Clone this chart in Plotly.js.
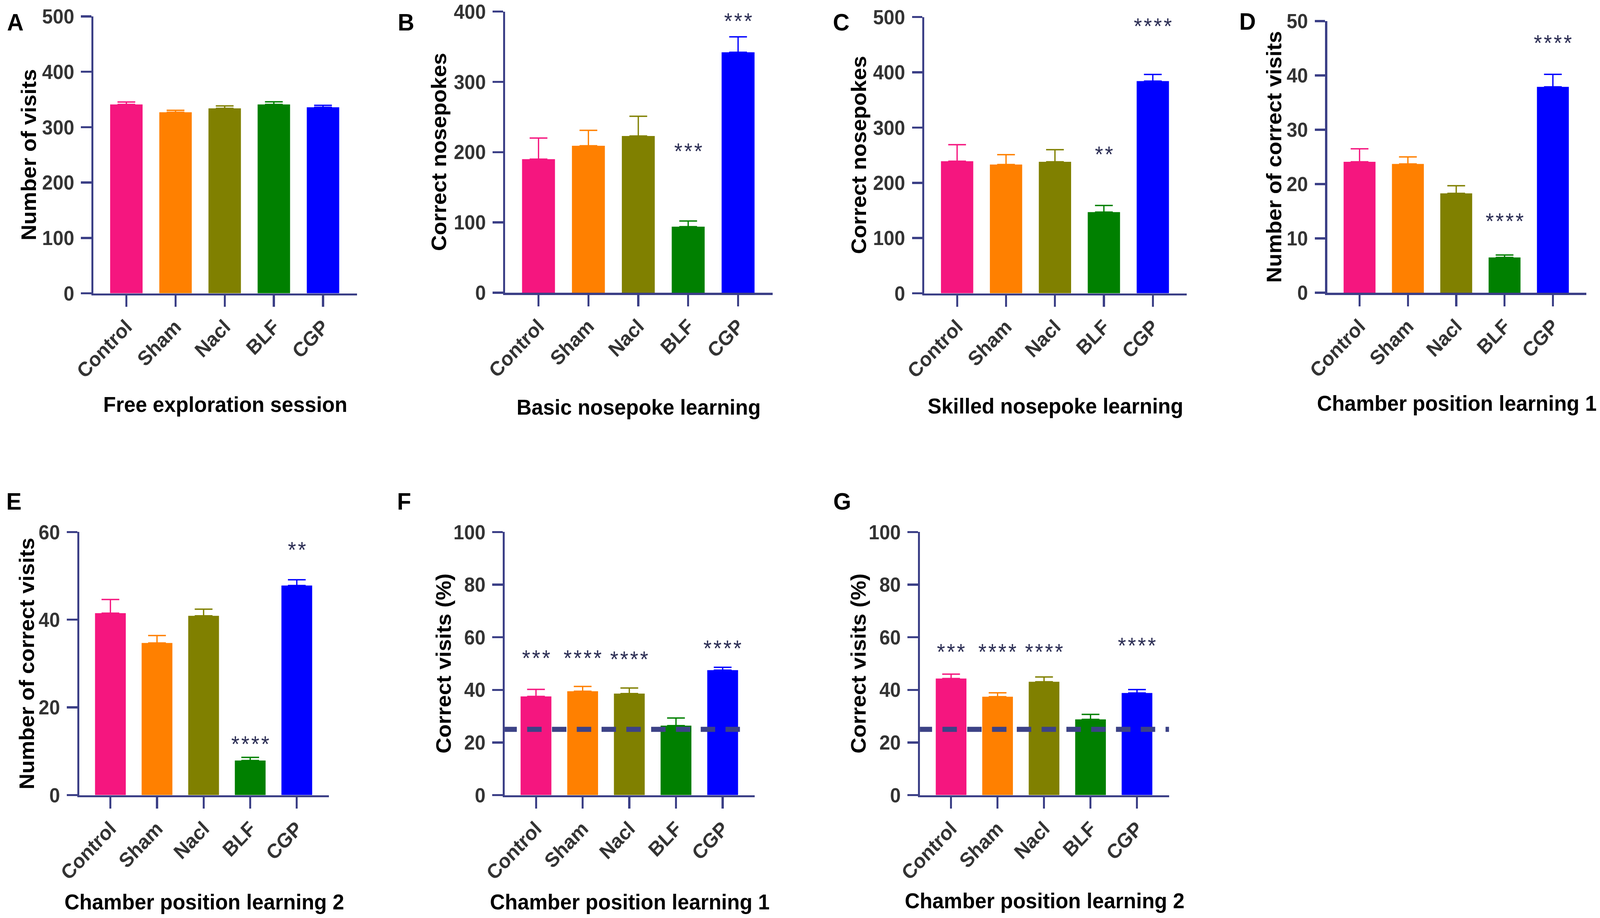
<!DOCTYPE html>
<html>
<head>
<meta charset="utf-8">
<script src="https://cdn.plot.ly/plotly-3.0.1.min.js"></script>
<style>
  html, body { margin: 0; padding: 0; background: #fff; overflow: hidden; }
  #chart { width: 4324px; height: 2349px; transform-origin: 0 0; }
</style>
</head>
<body>
<div id="chart"></div>
<script>
// groups and colours shared by every panel
var groups = ['Control', 'Sham', 'Nacl', 'BLF', 'CGP'];
var barColors = ['#f5167f', '#ff8000', '#808000', '#008000', '#0000ff'];

// A - free exploration session
var freeMean = [341, 327, 334, 341, 336];
var freeSem = [4.4, 3.5, 4.4, 4.9, 3.5];
var freeStars = ['', '', '', '', ''];
var freeStarY = [null, null, null, null, null];

// B - basic nosepoke learning
var basicMean = [190, 209, 223, 94, 342];
var basicSem = [30, 22, 28, 8, 22];
var basicStars = ['', '', '', '***', '***'];
var basicStarY = [null, null, null, 208, 393];

// C - skilled nosepoke learning
var skilledMean = [239, 233, 238, 147, 384];
var skilledSem = [30, 18, 22, 12, 12];
var skilledStars = ['', '', '', '**', '****'];
var skilledStarY = [null, null, null, 260, 492];

// D - chamber position learning 1, counts
var cpl1CountMean = [24.1, 23.7, 18.3, 6.5, 37.9];
var cpl1CountSem = [2.4, 1.3, 1.4, 0.45, 2.3];
var cpl1CountStars = ['', '', '', '****', '****'];
var cpl1CountStarY = [null, null, null, 14.0, 46.8];

// E - chamber position learning 2, counts
var cpl2CountMean = [41.5, 34.7, 40.9, 7.9, 47.8];
var cpl2CountSem = [3.1, 1.7, 1.5, 0.7, 1.3];
var cpl2CountStars = ['', '', '', '****', '**'];
var cpl2CountStarY = [null, null, null, 12.75, 57];

// F - chamber position learning 1, percent
var cpl1PctMean = [37.5, 39.5, 38.6, 26.4, 47.5];
var cpl1PctSem = [2.7, 1.8, 2.1, 2.9, 1.1];
var cpl1PctStars = ['***', '****', '****', '', '****'];
var cpl1PctStarY = [53.8, 53.8, 53.4, null, 57.5];

// G - chamber position learning 2, percent
var cpl2PctMean = [44.3, 37.4, 43.1, 28.8, 38.8];
var cpl2PctSem = [1.7, 1.5, 1.8, 1.9, 1.3];
var cpl2PctStars = ['***', '****', '****', '', '****'];
var cpl2PctStarY = [56.2, 56.2, 56.2, null, 58.6];

var chanceLevel = 25;

var W = 4324;
var H = 2349;
var FONT = 'Liberation Sans, Arial, Helvetica, sans-serif';
var AXIS_COLOR = '#3b3f86';
var AXIS_WIDTH = 5.5;

// the window may be narrower than the figure: squeeze it to fit
var fitX = Math.min(1, window.innerWidth / W);
var fitY = Math.min(1, window.innerHeight / H);
document.getElementById('chart').style.transform = 'scale(' + fitX + ',' + fitY + ')';

// panel frames in figure pixels: [left, right, top, bottom]
var panels = [
  { letter: 'A', mean: freeMean, sem: freeSem, stars: freeStars, starY: freeStarY,
    ymax: 500, dtick: 100, ytitle: 'Number of visits', xtitle: 'Free exploration session',
    box: [252.5, 964.6, 42, 750.6], letterPos: [17, 56], ytitleX: 77, xtitleY: 1035 },
  { letter: 'B', mean: basicMean, sem: basicSem, stars: basicStars, starY: basicStarY,
    ymax: 400, dtick: 100, ytitle: 'Correct nosepokes', xtitle: 'Basic nosepoke learning',
    box: [1365, 2087.7, 29.5, 749], letterPos: [1073, 56], ytitleX: 1186, xtitleY: 1041 },
  { letter: 'C', mean: skilledMean, sem: skilledSem, stars: skilledStars, starY: skilledStarY,
    ymax: 500, dtick: 100, ytitle: 'Correct nosepokes', xtitle: 'Skilled nosepoke learning',
    box: [2498, 3206.7, 43.5, 750.6], letterPos: [2249, 56], ytitleX: 2320, xtitleY: 1038 },
  { letter: 'D', mean: cpl1CountMean, sem: cpl1CountSem, stars: cpl1CountStars, starY: cpl1CountStarY,
    ymax: 50, dtick: 10, ytitle: 'Number of correct visits', xtitle: 'Chamber position learning 1',
    box: [3586.7, 4286.8, 54, 749], letterPos: [3347, 55], ytitleX: 3443, xtitleY: 1031 },
  { letter: 'E', mean: cpl2CountMean, sem: cpl2CountSem, stars: cpl2CountStars, starY: cpl2CountStarY,
    ymax: 60, dtick: 20, ytitle: 'Number of correct visits', xtitle: 'Chamber position learning 2',
    box: [214, 889, 1361.3, 2034.6], letterPos: [15, 1282], ytitleX: 73, xtitleY: 2307 },
  { letter: 'F', mean: cpl1PctMean, sem: cpl1PctSem, stars: cpl1PctStars, starY: cpl1PctStarY,
    ymax: 100, dtick: 20, ytitle: 'Correct visits (%)', xtitle: 'Chamber position learning 1',
    box: [1364, 2040, 1361.3, 2034.6], letterPos: [1071, 1282], ytitleX: 1199, xtitleY: 2307,
    chanceX: [-0.72, 4.40] },
  { letter: 'G', mean: cpl2PctMean, sem: cpl2PctSem, stars: cpl2PctStars, starY: cpl2PctStarY,
    ymax: 100, dtick: 20, ytitle: 'Correct visits (%)', xtitle: 'Chamber position learning 2',
    box: [2486.2, 3159.4, 1361.3, 2034.6], letterPos: [2250, 1282], ytitleX: 2320, xtitleY: 2304,
    chanceX: [-0.72, 4.69] }
];

function px_x(v) { return v / W; }
function px_y(v) { return 1 - v / H; }

// GraphPad spaces its asterisks a little wider than the font does
function spaced(stars) {
  return stars.split('').join('\u200A');
}

var traces = [];
var layout = {
  width: W,
  height: H,
  margin: { l: 0, r: 0, t: 0, b: 0, pad: 0 },
  paper_bgcolor: '#ffffff',
  plot_bgcolor: 'rgba(0,0,0,0)',
  showlegend: false,
  barmode: 'overlay',
  bargap: 0.34,
  font: { family: FONT, color: '#000000' },
  annotations: [],
  shapes: []
};

var tickFont = { family: FONT, size: 52, color: '#333333', weight: 'bold' };
var titleFont = { family: FONT, size: 56, color: '#000000', weight: 'bold' };

panels.forEach(function (p, i) {
  var n = i === 0 ? '' : String(i + 1);
  var xa = 'x' + n;
  var ya = 'y' + n;

  layout['xaxis' + n] = {
    domain: [px_x(p.box[0]), px_x(p.box[1])],
    anchor: ya,
    type: 'category',
    categoryorder: 'array',
    categoryarray: groups,
    range: [-0.67, 4.69],
    showline: true,
    linecolor: AXIS_COLOR,
    linewidth: AXIS_WIDTH,
    ticks: 'outside',
    ticklen: 29,
    tickwidth: AXIS_WIDTH,
    tickcolor: AXIS_COLOR,
    tickangle: -45,
    tickfont: tickFont,
    showgrid: false,
    zeroline: false,
    fixedrange: true
  };
  layout['yaxis' + n] = {
    domain: [px_y(p.box[3]), px_y(p.box[2])],
    anchor: xa,
    range: [0, p.ymax],
    tick0: 0,
    dtick: p.dtick,
    showline: true,
    linecolor: AXIS_COLOR,
    linewidth: AXIS_WIDTH,
    ticks: 'outside',
    ticklen: 28,
    tickwidth: AXIS_WIDTH,
    tickcolor: AXIS_COLOR,
    ticklabelstandoff: 8,
    tickfont: tickFont,
    showgrid: false,
    zeroline: false,
    fixedrange: true
  };

  groups.forEach(function (g, j) {
    traces.push({
      type: 'bar',
      x: [g],
      y: [p.mean[j]],
      xaxis: xa,
      yaxis: ya,
      marker: { color: barColors[j], line: { width: 0 } },
      error_y: {
        type: 'data',
        symmetric: false,
        array: [p.sem[j]],
        arrayminus: [0],
        color: barColors[j],
        thickness: 3.5,
        width: 24
      },
      hoverinfo: 'skip'
    });

    if (p.stars[j]) {
      layout.annotations.push({
        xref: xa, yref: ya,
        x: g, y: p.starY[j],
        text: spaced(p.stars[j]),
        showarrow: false,
        xanchor: 'center', yanchor: 'middle',
        yshift: -12,
        font: { family: FONT, size: 57, color: '#2d2f55' }
      });
    }
  });

  // panel letter
  layout.annotations.push({
    xref: 'paper', yref: 'paper',
    x: px_x(p.letterPos[0]), y: px_y(p.letterPos[1]),
    text: p.letter,
    showarrow: false,
    xanchor: 'left', yanchor: 'middle',
    font: { family: FONT, size: 62, color: '#000000', weight: 'bold' }
  });

  // y title
  layout.annotations.push({
    xref: 'paper', yref: 'paper',
    x: px_x(p.ytitleX), y: px_y((p.box[2] + p.box[3]) / 2),
    text: p.ytitle,
    textangle: -90,
    showarrow: false,
    xanchor: 'center', yanchor: 'middle',
    font: titleFont
  });

  // x title
  layout.annotations.push({
    xref: 'paper', yref: 'paper',
    x: px_x((p.box[0] + p.box[1]) / 2), y: px_y(p.xtitleY),
    text: p.xtitle,
    showarrow: false,
    xanchor: 'center', yanchor: 'middle',
    font: titleFont
  });

  // chance level
  if (p.chanceX) {
    layout.shapes.push({
      type: 'line',
      xref: xa, yref: ya,
      x0: p.chanceX[0], x1: p.chanceX[1],
      y0: chanceLevel, y1: chanceLevel,
      layer: 'above',
      line: { color: '#3c4286', width: 13, dash: '39px,28px' }
    });
  }
});

Plotly.newPlot('chart', traces, layout, { displayModeBar: false, staticPlot: true });
</script>
</body>
</html>
